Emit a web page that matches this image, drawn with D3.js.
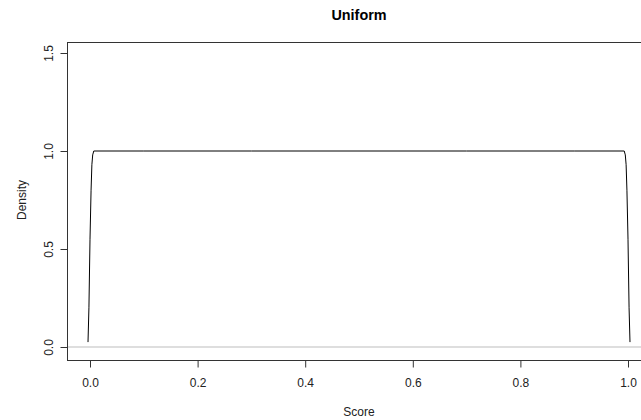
<!DOCTYPE html>
<html>
<head>
<meta charset="utf-8">
<script src="https://cdn.jsdelivr.net/npm/d3@7"></script>
<style>
  html, body { margin: 0; padding: 0; background: #fff; }
  svg { display: block; font-family: "Liberation Sans", Arial, Helvetica, sans-serif; }
</style>
</head>
<body>
<svg id="chart" width="641" height="420"></svg>
<script>
// Kernel density estimate of uniform scores
const scoreX = [-0.0037, -0.002, 0.0, 0.002, 0.0035, 0.005, 0.007, 0.1, 0.3, 0.5, 0.7, 0.9, 0.993, 0.995, 0.9965, 0.998, 1.0, 1.002, 1.0037];
const densityY = [0.025, 0.2, 0.55, 0.8, 0.93, 0.98, 1.0, 1.0, 1.0, 1.0, 1.0, 1.0, 1.0, 0.98, 0.93, 0.8, 0.55, 0.2, 0.025];
const xTicks = [0, 0.2, 0.4, 0.6, 0.8, 1.0];
const yTicks = [0, 0.5, 1.0, 1.5];
const titleText = "Uniform";
const xLabel = "Score";
const yLabel = "Density";

const svg = d3.select("#chart");
const x = d3.scaleLinear().domain([0, 1]).range([90, 628]);
const y = d3.scaleLinear().domain([0, 1.5]).range([347, 53]);

// plot region padded 4% each side
const x0 = x(-0.04) - 1.5, x1 = x(1.04);
const y0 = y(-0.06) + 1, y1 = y(1.56) + 0.5;

// zero reference line
svg.append("line")
  .attr("x1", x0).attr("x2", x1)
  .attr("y1", y(0)).attr("y2", y(0))
  .attr("stroke", "#bdbdbd").attr("stroke-width", 1);

// density curve
const line = d3.line().x((d, i) => x(scoreX[i])).y(d => y(d));
svg.append("path")
  .datum(densityY)
  .attr("d", line)
  .attr("fill", "none")
  .attr("stroke", "#000")
  .attr("stroke-width", 1);

// box
svg.append("rect")
  .attr("x", Math.round(x0) + 0.5).attr("y", Math.round(y1) + 0.5)
  .attr("width", x1 - x0 + 10).attr("height", Math.round(y0) - Math.round(y1))
  .attr("fill", "none").attr("stroke", "#333").attr("stroke-width", 1);

// x axis
const xAxis = svg.append("g")
  .attr("transform", `translate(0,${Math.round(y0) + 0.5})`)
  .call(d3.axisBottom(x).tickValues(xTicks).tickSize(7).tickPadding(11)
    .tickFormat(d3.format(".1f")));
xAxis.select(".domain").remove();
xAxis.selectAll(".tick line").attr("stroke", "#333");
xAxis.selectAll("text").attr("font-size", 12).attr("fill", "#222")
  .attr("font-family", "Liberation Sans, Arial, sans-serif");

// y axis
const yAxis = svg.append("g")
  .attr("transform", `translate(${Math.round(x0) + 0.5},0)`)
  .call(d3.axisLeft(y).tickValues(yTicks).tickSize(7).tickFormat(d3.format(".1f")));
yAxis.select(".domain").remove();
yAxis.selectAll(".tick line").attr("stroke", "#333");
yAxis.selectAll("text")
  .attr("font-size", 12).attr("fill", "#222")
  .attr("font-family", "Liberation Sans, Arial, sans-serif")
  .attr("text-anchor", "middle")
  .attr("x", null).attr("dy", null)
  .attr("transform", "translate(-19,0) rotate(-90)")
  .attr("dy", "0.35em");

// titles
svg.append("text")
  .attr("x", (x(0) + x(1)) / 2).attr("y", 20)
  .attr("text-anchor", "middle")
  .attr("font-size", 14.4).attr("font-weight", "bold").attr("fill", "#000")
  .text(titleText);

svg.append("text")
  .attr("x", (x(0) + x(1)) / 2).attr("y", 416)
  .attr("text-anchor", "middle")
  .attr("font-size", 12).attr("fill", "#222")
  .text(xLabel);

svg.append("text")
  .attr("transform", `translate(22,${(y(-0.06) + y(1.56)) / 2}) rotate(-90)`)
  .attr("dy", "0.35em")
  .attr("text-anchor", "middle")
  .attr("font-size", 12).attr("fill", "#222")
  .text(yLabel);
</script>
</body>
</html>
